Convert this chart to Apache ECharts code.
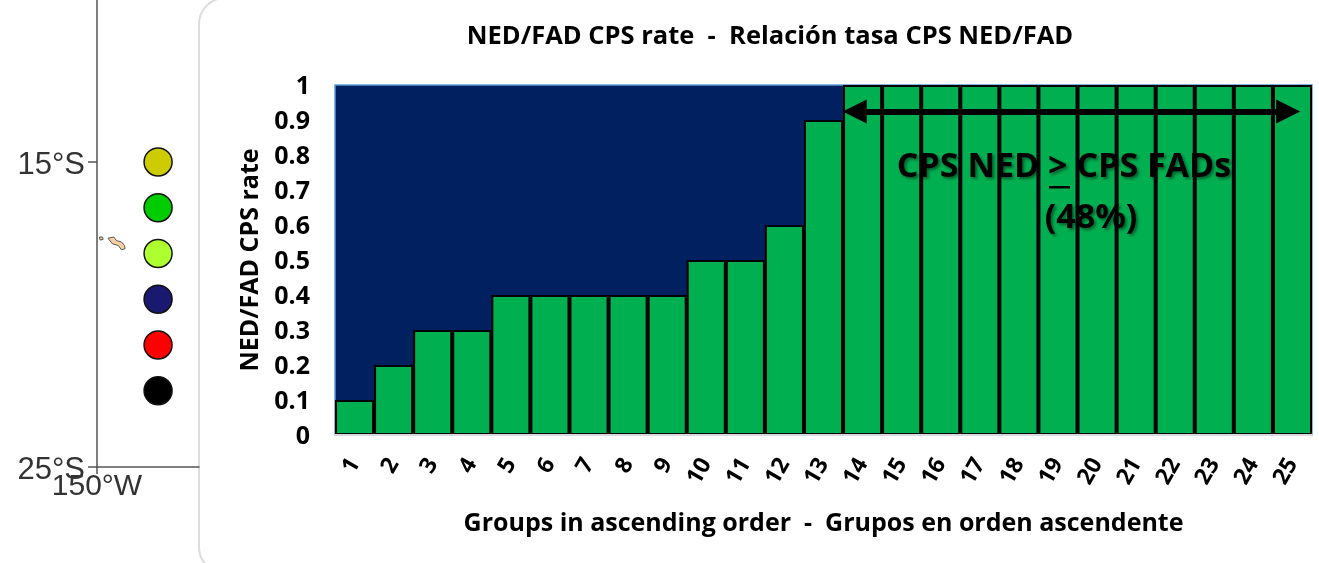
<!DOCTYPE html>
<html>
<head>
    <meta charset="utf-8">
    <title>NED/FAD CPS rate</title>
    <script src="https://cdn.jsdelivr.net/npm/echarts@6/dist/echarts.min.js"></script>
    <style type="text/css">
        *{margin: 0;padding: 0;}
        body{background: #fff;overflow: hidden;}
        #main{width: 1319px;height: 563px;}
    </style>
</head>
<body>
<div id="main"></div>
<script type="text/javascript">
    var groups = ['1','2','3','4','5','6','7','8','9','10','11','12','13','14','15','16','17','18','19','20','21','22','23','24','25'];
    var rates = [0.1,0.2,0.3,0.3,0.4,0.4,0.4,0.4,0.4,0.5,0.5,0.6,0.9,1,1,1,1,1,1,1,1,1,1,1,1];
    var rateTicks = [0,1];
    var arrowSpan = [[13.3,0.924],[24.39,0.924]];

    // map strip on the left
    var latTicks = [-25,-15];
    var lonTicks = [-150];
    var dotLon = [-148,-148,-148,-148,-148,-148];
    var dotLat = [-15,-16.5,-18,-19.5,-21,-22.5];
    var tahiti = [[-149.64,-17.50],[-149.45,-17.46],[-149.36,-17.58],[-149.20,-17.62],[-149.10,-17.74],[-149.08,-17.84],[-149.20,-17.88],[-149.30,-17.74],[-149.50,-17.68]];
    var moorea = [[-149.92,-17.46],[-149.82,-17.46],[-149.80,-17.54],[-149.90,-17.56]];

    var dotColors = ['#CCCC00','#00CC00','#ADFF2F','#191970','#FF0000','#000000'];
    var font = '"Open Sans"';

    var myChart = echarts.init(document.getElementById('main'));
    var option = {
        animation: false,
        backgroundColor: '#fff',
        grid: [
            {left: 97, top: 0, width: 102, height: 467},
            {left: 335, top: 85, width: 977, height: 350, show: true, backgroundColor: '#002060', borderColor: '#5B9BD5', borderWidth: 1.5}
        ],
        xAxis: [
            {
                gridIndex: 0, type: 'value', min: -150, max: -146.66,
                splitLine: {show: false},
                axisLine: {onZero: false, lineStyle: {color: '#555', width: 1.5}},
                axisTick: {length: 7, customValues: lonTicks, lineStyle: {color: '#555', width: 1.5}},
                axisLabel: {customValues: lonTicks, margin: 5, fontFamily: 'Liberation Sans', fontSize: 30, color: '#333',
                    formatter: function (v) { return (-v) + '°W'; }}
            },
            {
                gridIndex: 1, type: 'category', data: groups, z: 5,
                axisLine: {show: true, lineStyle: {color: '#d9d9d9', width: 2}},
                axisTick: {show: false},
                axisLabel: {interval: 0, rotate: 60, margin: 25, fontFamily: font, fontWeight: 'bold', fontSize: 23, color: '#000'},
                name: 'Groups in ascending order  -  Grupos en orden ascendente',
                nameLocation: 'middle', nameGap: 76,
                nameTextStyle: {fontFamily: font, fontWeight: 'bold', fontSize: 25, color: '#000'}
            },
            // hidden linear axis for the arrow, counted in bar widths
            {gridIndex: 1, type: 'value', min: 0, max: 25, show: false}
        ],
        yAxis: [
            {
                gridIndex: 0, type: 'value', min: -25, max: -9.69,
                splitLine: {show: false},
                axisLine: {onZero: false, lineStyle: {color: '#555', width: 1.5}},
                axisTick: {length: 9, customValues: latTicks, lineStyle: {color: '#555', width: 1.5}},
                axisLabel: {customValues: latTicks, margin: 12,
                    rich: {a: {padding: [7,0,0,0], fontFamily: 'Liberation Sans', fontSize: 31, color: '#333'}},
                    formatter: function (v) { return '{a|' + (-v) + '°S}'; }}
            },
            {
                gridIndex: 1, type: 'value', min: rateTicks[0], max: rateTicks[1], interval: 0.1,
                splitLine: {show: false},
                axisLine: {show: false},
                axisTick: {show: false},
                axisLabel: {margin: 25,
                    rich: {a: {padding: [4,0,0,0], fontFamily: font, fontWeight: 'bold', fontSize: 25, color: '#000'}},
                    formatter: function (v) { return '{a|' + v + '}'; }},
                name: 'NED/FAD CPS rate',
                nameLocation: 'middle', nameGap: 72,
                nameTextStyle: {fontFamily: font, fontWeight: 'bold', fontSize: 25, color: '#000'}
            }
        ],
        series: [
            {
                type: 'bar', xAxisIndex: 1, yAxisIndex: 1, barCategoryGap: 0,
                itemStyle: {color: '#00AF50', borderColor: '#000', borderWidth: 2},
                data: rates
            },
            {
                type: 'line', xAxisIndex: 2, yAxisIndex: 1, data: [], silent: true,
                markLine: {
                    silent: true, animation: false, symbol: ['triangle','triangle'], symbolSize: [24,24],
                    label: {show: false},
                    lineStyle: {color: '#000', width: 6, type: 'solid'},
                    data: [[{coord: arrowSpan[0]},{coord: arrowSpan[1]}]]
                }
            },
            {
                type: 'scatter', xAxisIndex: 0, yAxisIndex: 0, symbolSize: 28,
                itemStyle: {
                    opacity: 1, borderColor: '#111', borderWidth: 1.5,
                    color: function (p) { return dotColors[p.dataIndex]; }
                },
                data: dotLon.map(function (lon, i) { return [lon, dotLat[i]]; })
            },
            {
                type: 'custom', xAxisIndex: 0, yAxisIndex: 0, silent: true,
                renderItem: function (params, api) {
                    var shape = params.dataIndex === 0 ? tahiti : moorea;
                    return {
                        type: 'polygon',
                        shape: {points: shape.map(function (p) { return api.coord(p); })},
                        style: {fill: '#F6CFA3', stroke: '#555', lineWidth: 1}
                    };
                },
                data: [[tahiti[0][0], tahiti[0][1]],[moorea[0][0], moorea[0][1]]]
            }
        ],
        graphic: [
            {type: 'rect', z: -1, shape: {x: 199, y: -2, width: 1200, height: 575, r: 26}, style: {fill: '#fff', stroke: '#dcdcdc', lineWidth: 2}},
            {type: 'text', z: 50, x: 770, y: 37, style: {text: 'NED/FAD CPS rate  -  Relación tasa CPS NED/FAD', fontFamily: font, fontWeight: 'bold', fontSize: 25.5, fill: '#000', align: 'center', verticalAlign: 'middle'}},
            {type: 'text', z: 50, x: 1064, y: 167, style: {text: 'CPS NED > CPS FADs', fontFamily: font, fontWeight: 'bold', fontSize: 34, fill: '#000', align: 'center', verticalAlign: 'middle', textShadowColor: 'rgba(0,0,0,0.45)', textShadowBlur: 3, textShadowOffsetX: 2, textShadowOffsetY: 2}},
            {type: 'text', z: 50, x: 1091, y: 218, style: {text: '(48%)', fontFamily: font, fontWeight: 'bold', fontSize: 34, fill: '#000', align: 'center', verticalAlign: 'middle', textShadowColor: 'rgba(0,0,0,0.45)', textShadowBlur: 3, textShadowOffsetX: 2, textShadowOffsetY: 2}},
            {type: 'rect', z: 50, shape: {x: 1049, y: 186, width: 21, height: 2.5}, style: {fill: '#000'}}
        ]
    };
    myChart.setOption(option);
</script>
</body>
</html>
